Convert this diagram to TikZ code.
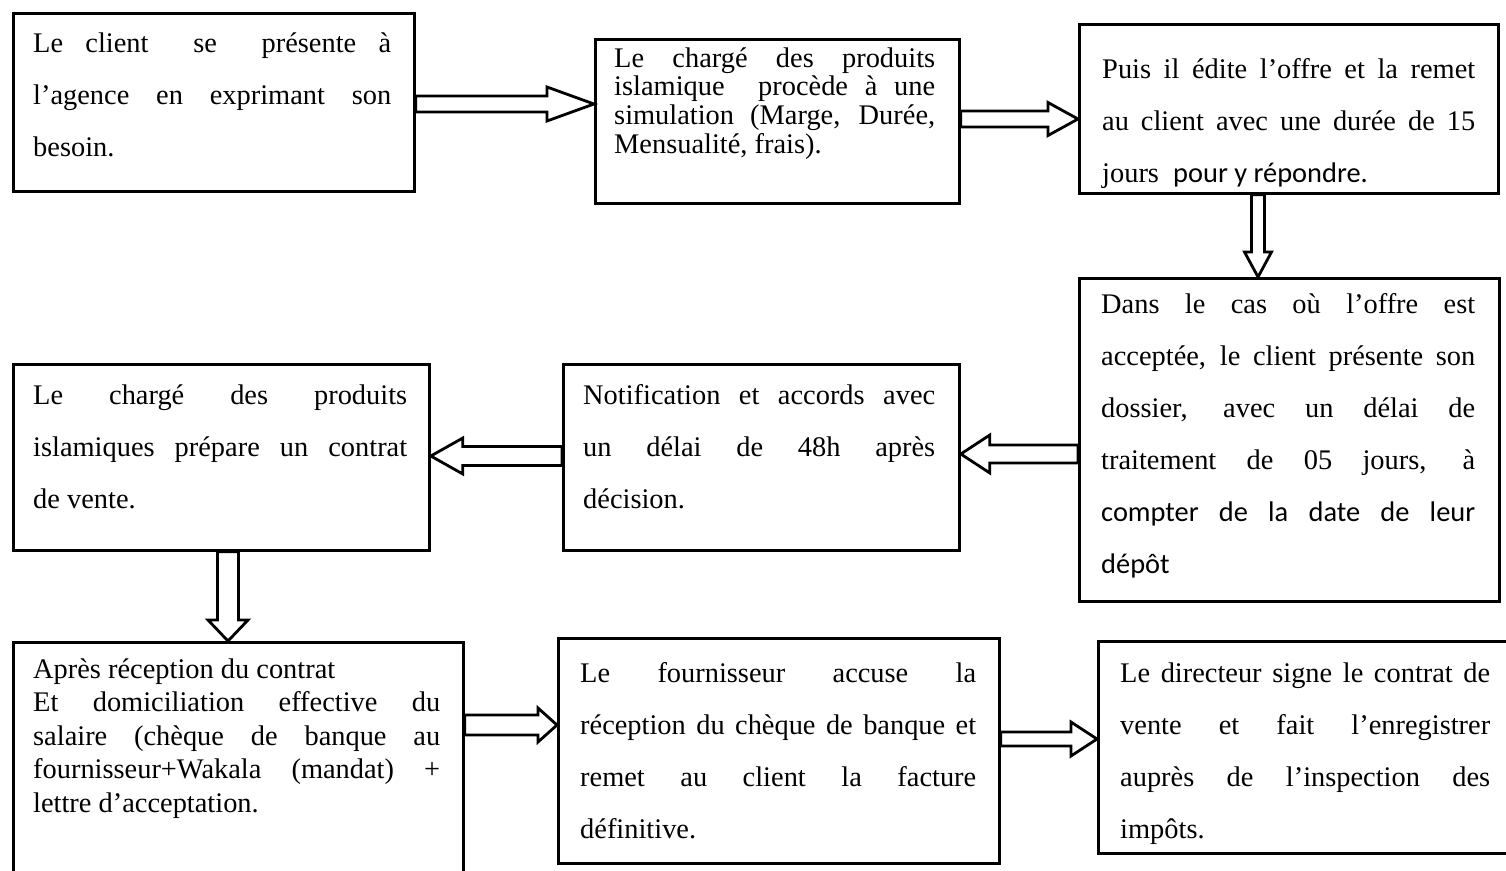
\documentclass[tikz,border=0pt]{standalone}
\usepackage{fontspec}
\setmainfont{Liberation Serif}
\newfontfamily\calib{Carlito}
\usetikzlibrary{calc}
\hyphenpenalty=10000
\exhyphenpenalty=10000
\tolerance=10000
\hbadness=10000
\hfuzz=20pt
\newcommand\blockarr[5]{%
  \coordinate (hb) at ($(#2)!#5pt!(#1)$);
  \draw[blockarrow]
    ($(#1)!#3pt!90:(#2)$) -- ($(hb)!#3pt!90:(#2)$) -- ($(hb)!#4pt!90:(#2)$) -- (#2)
    -- ($(hb)!#4pt!-90:(#2)$) -- ($(hb)!#3pt!-90:(#2)$) -- ($(#1)!#3pt!-90:(#2)$) -- cycle;}
\begin{document}
\begin{tikzpicture}[x=1pt,y=-1pt,
  boxnode/.style={draw, line width=2.8pt, rectangle, inner sep=0pt, anchor=north west},
  blockarrow/.style={draw, line width=2.8pt, fill=white, line join=miter},
  txt/.style={anchor=base west, inner sep=0pt, align=justify, font=\fontsize{28.4}{52}\selectfont},
  tight/.style={font=\fontsize{28.4}{28.7}\selectfont},
  single/.style={font=\fontsize{28.4}{33.5}\selectfont}]
\useasboundingbox (0,0) rectangle (1506,870);
% boxes
\node[boxnode, minimum width=401pt, minimum height=178pt] (b1) at (12,12) {};
\node[boxnode, minimum width=364pt, minimum height=164pt] (b2) at (594,38) {};
\node[boxnode, minimum width=419pt, minimum height=169pt] (b3) at (1078,23) {};
\node[boxnode, minimum width=420pt, minimum height=323pt] (b4) at (1078,277) {};
\node[boxnode, minimum width=396pt, minimum height=186pt] (b5) at (562,363) {};
\node[boxnode, minimum width=416pt, minimum height=186pt] (b6) at (12,363) {};
\node[boxnode, minimum width=450pt, minimum height=260pt] (b7) at (12,641) {};
\node[boxnode, minimum width=441pt, minimum height=225pt] (b8) at (557,637) {};
\node[boxnode, minimum width=420pt, minimum height=212pt] (b9) at (1097,640) {};
% texts
\node[txt, text width=358pt] (t1) at (33,52) {\noindent Le client\ \ se\ \ présente à\linebreak l’agence en exprimant son\linebreak besoin.};
\node[txt, tight, text width=321pt] (t2) at (614,67) {\noindent Le chargé des produits\linebreak islamique\ \ procède à une\linebreak simulation (Marge, Durée,\linebreak Mensualité, frais).};
\node[txt, text width=373pt] (t3) at (1102,78) {\noindent Puis il édite l’offre et la remet\linebreak au client avec une durée de 15\linebreak jours\ \ {\calib pour y répondre.}};
\node[txt, text width=374pt] (t4) at (1101,313) {\noindent Dans le cas où l’offre est\linebreak acceptée, le client présente son\linebreak dossier, avec un délai de\linebreak traitement de 05 jours, à\linebreak {\calib compter de la date de leur\linebreak dépôt}};
\node[txt, text width=352pt] (t5) at (583,404) {\noindent Notification et accords avec\linebreak un délai de 48h après\linebreak décision.};
\node[txt, text width=374pt] (t6) at (33,404) {\noindent Le chargé des produits\linebreak islamiques prépare un contrat\linebreak de vente.};
\node[txt, single, text width=407pt] (t7) at (33,678) {\noindent Après réception du contrat\newline Et domiciliation effective du\linebreak salaire (chèque de banque au\linebreak fournisseur+Wakala (mandat) +\linebreak lettre d’acceptation.};
\node[txt, text width=396pt] (t8) at (580,682) {\noindent Le fournisseur accuse la\linebreak réception du chèque de banque et\linebreak remet au client la facture\linebreak définitive.};
\node[txt, text width=370pt] (t9) at (1120,682) {\noindent Le directeur signe le contrat de\linebreak vente et fait l’enregistrer\linebreak auprès de l’inspection des\linebreak impôts.};
% arrow end points
\coordinate (a1t) at (b1.east |- 0,104);  \coordinate (a1h) at (b2.west |- 0,104);
\coordinate (a2t) at (b2.east |- 0,119);  \coordinate (a2h) at (b3.west |- 0,119);
\coordinate (a3t) at (b3.south -| 1258,0); \coordinate (a3h) at (b4.north -| 1258,0);
\coordinate (a4t) at (b4.west |- 0,454);  \coordinate (a4h) at (b5.east |- 0,454);
\coordinate (a5t) at (b5.west |- 0,456);  \coordinate (a5h) at (b6.east |- 0,456);
\coordinate (a6t) at (b6.south -| 228,0); \coordinate (a6h) at (b7.north -| 228,0);
\coordinate (a7t) at (b7.east |- 0,725);  \coordinate (a7h) at (b8.west |- 0,725);
\coordinate (a8t) at (b8.east |- 0,739);  \coordinate (a8h) at (b9.west |- 0,739);
\blockarr{a1t}{a1h}{8}{17}{47}
\blockarr{a2t}{a2h}{8}{16.5}{30}
\blockarr{a3t}{a3h}{6.5}{13.5}{25}
\blockarr{a4t}{a4h}{9}{19}{29}
\blockarr{a5t}{a5h}{9.5}{18}{32}
\blockarr{a6t}{a6h}{10.5}{20}{21}
\blockarr{a7t}{a7h}{10}{17}{19}
\blockarr{a8t}{a8h}{7}{17}{26}
\end{tikzpicture}
\end{document}
